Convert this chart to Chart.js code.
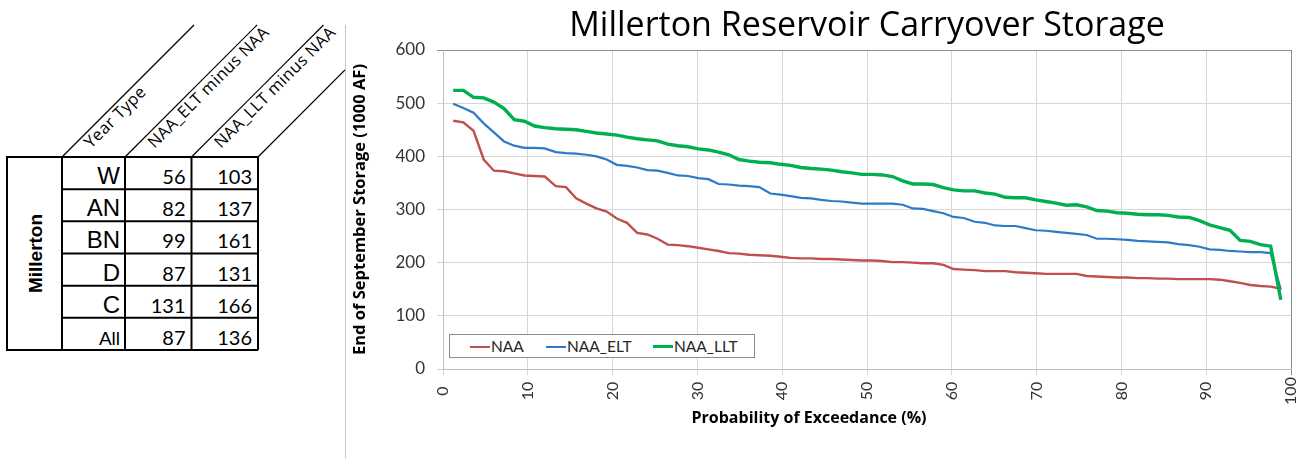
<!DOCTYPE html>
<html>
<head>
<meta charset="utf-8">
<script src="https://cdn.jsdelivr.net/npm/chart.js@4.4.1/dist/chart.umd.min.js"></script>
<style>
  html, body { margin: 0; padding: 0; background: #fff; }
  #page { position: relative; width: 1315px; height: 458px; overflow: hidden; font-family: Lato, "Open Sans", sans-serif; }
  #tbl { position: absolute; left: 0; top: 0; }
  #sep { position: absolute; left: 345px; top: 25px; width: 1px; height: 433px; background: #c4c4c4; }
  #chartBox { position: absolute; left: 345px; top: 0; width: 970px; height: 458px; }
  #title { position: absolute; left: 467px; top: 6px; width: 800px; text-align: center; font-family: "Open Sans", sans-serif; font-size: 34px; line-height: 34px; color: #000; white-space: nowrap; }
  #xTitle { position: absolute; left: 609px; top: 409px; width: 400px; text-align: center; font-family: "Open Sans", sans-serif; font-size: 16px; line-height: 16px; font-weight: bold; color: #000; white-space: nowrap; }
  #legend { position: absolute; left: 449px; top: 334px; width: 306px; height: 24px; box-sizing: border-box; border: 1px solid #8c8c8c; background: #fff; }
  #legend .sw { position: absolute; top: 11px; width: 20px; height: 2px; }
  #legend .lb { position: absolute; top: 3px; font-size: 15.5px; line-height: 16px; color: #262626; white-space: nowrap; }
</style>
</head>
<body>
<div id="page">
  <svg id="tbl" width="345" height="458" viewBox="0 0 345 458"></svg>
  <div id="sep"></div>
  <div id="chartBox"><canvas id="chart" width="970" height="458"></canvas></div>
  <div id="title">Millerton Reservoir Carryover Storage</div>
  <div id="xTitle">Probability of Exceedance (%)</div>
  <div id="legend">
    <span class="sw" style="left:20px;background:#C0504D"></span><span class="lb" style="left:41px">NAA</span>
    <span class="sw" style="left:96px;background:#2C7BC8"></span><span class="lb" style="left:117px">NAA_ELT</span>
    <span class="sw" style="left:203px;height:3px;top:10px;background:#00B050"></span><span class="lb" style="left:224px">NAA_LLT</span>
  </div>
</div>

<script>
// ---------- Table data ----------
const yearTypes = ["W", "AN", "BN", "D", "C", "All"];
const eltMinusNaa = [56, 82, 99, 87, 131, 87];
const lltMinusNaa = [103, 137, 161, 131, 166, 136];
const headers = ["Year Type", "NAA_ELT minus NAA", "NAA_LLT minus NAA"];

// ---------- Chart data (probability of exceedance, %) ----------
const exceedance = [
  1.2, 2.4, 3.6, 4.8, 6.0, 7.2, 8.4, 9.6, 10.8, 12.0,
  13.3, 14.5, 15.7, 16.9, 18.1, 19.3, 20.5, 21.7, 22.9, 24.1,
  25.3, 26.5, 27.7, 28.9, 30.1, 31.3, 32.5, 33.7, 34.9, 36.1,
  37.3, 38.6, 39.8, 41.0, 42.2, 43.4, 44.6, 45.8, 47.0, 48.2,
  49.4, 50.6, 51.8, 53.0, 54.2, 55.4, 56.6, 57.8, 59.0, 60.2,
  61.4, 62.7, 63.9, 65.1, 66.3, 67.5, 68.7, 69.9, 71.1, 72.3,
  73.5, 74.7, 75.9, 77.1, 78.3, 79.5, 80.7, 81.9, 83.1, 84.3,
  85.5, 86.7, 88.0, 89.2, 90.4, 91.6, 92.8, 94.0, 95.2, 96.4,
  97.6, 98.8
];
const naa = [
  467, 464, 448, 394, 373, 372, 368, 364, 363, 362,
  344, 342, 321, 311, 302, 296, 283, 275, 256, 253,
  245, 234, 233, 231, 228, 225, 222, 218, 217, 215,
  214, 213, 211, 209, 208, 208, 207, 207, 206, 205,
  204, 204, 203, 201, 201, 200, 199, 199, 196, 188,
  187, 186, 184, 184, 184, 182, 181, 180, 179, 179,
  179, 179, 175, 174, 173, 172, 172, 171, 171, 170,
  170, 169, 169, 169, 169, 168, 165, 162, 158, 156,
  155, 151
];
const naaElt = [
  499, 491, 482, 462, 445, 428, 420, 416, 416, 415,
  408, 406, 405, 403, 400, 394, 384, 382, 379, 374,
  373, 369, 364, 363, 359, 357, 348, 347, 345, 344,
  342, 330, 328, 325, 322, 321, 318, 316, 315, 313,
  311, 311, 311, 311, 309, 302, 301, 297, 293, 286,
  284, 277, 275, 270, 269, 269, 265, 261, 260, 258,
  256, 254, 252, 245, 245, 244, 243, 241, 240, 239,
  238, 235, 233, 230, 225, 224, 222, 221, 220, 220,
  218, 149
];
const naaLlt = [
  524, 524, 511, 510, 502, 490, 469, 466, 457, 454,
  452, 451, 450, 447, 444, 442, 440, 436, 433, 431,
  429, 423, 420, 418, 414, 412, 408, 403, 394, 391,
  389, 388, 385, 383, 379, 377, 376, 374, 371, 369,
  366, 366, 365, 362, 354, 348, 348, 347, 341, 337,
  335, 335, 331, 329, 323, 322, 322, 318, 315, 312,
  308, 309, 305, 298, 297, 294, 293, 291, 290, 290,
  289, 286, 285, 279, 271, 266, 261, 242, 240, 234,
  231, 130
];
const yTicks = [0, 100, 200, 300, 400, 500, 600];
const xTicks = [0, 10, 20, 30, 40, 50, 60, 70, 80, 90, 100];

// ---------- Helpers ----------
const $ = (id) => document.getElementById(id);
const NS = "http://www.w3.org/2000/svg";
function svgEl(tag, attrs, text) {
  const el = document.createElementNS(NS, tag);
  Object.entries(attrs).forEach(([k, v]) => el.setAttribute(k, v));
  if (text != null) el.textContent = text;
  $("tbl").appendChild(el);
  return el;
}

// ---------- Left table ----------
function drawTable() {
  const cols = [7, 62, 125, 191.5, 258];
  const top = 157, bottom = 350;
  const rowH = (bottom - top) / yearTypes.length;

  // slanted header lines
  const diagTop = 25;
  cols.slice(1).forEach((x) => {
    let x2 = x + (top - diagTop), y2 = diagTop;
    if (x2 > 345) { y2 = top - (345 - x); x2 = 345; }
    svgEl("line", { x1: x, y1: top, x2, y2, stroke: "#000", "stroke-width": 1.2 });
  });

  // rotated header labels
  const starts = [[91, 149], [154.5, 149], [221, 149]];
  const lens = [79, 163, 163];
  headers.forEach((h, i) => {
    svgEl("text", {
      transform: `translate(${starts[i][0]},${starts[i][1]}) rotate(-45)`,
      "font-family": "'Open Sans', sans-serif", "font-size": 16.5, fill: "#000",
      textLength: lens[i], lengthAdjust: "spacing",
    }, h);
  });

  // grid
  const g = { stroke: "#000", "stroke-width": 2, fill: "none" };
  svgEl("rect", { x: cols[0], y: top, width: cols[1] - cols[0], height: bottom - top, ...g });
  cols.slice(1).forEach((x) => svgEl("line", { x1: x, y1: top, x2: x, y2: bottom, ...g }));
  for (let r = 0; r <= yearTypes.length; r++) {
    const y = top + r * rowH;
    svgEl("line", { x1: cols[1], y1: y, x2: cols[4], y2: y, ...g });
  }

  // body
  yearTypes.forEach((t, r) => {
    const base = top + r * rowH + 27;
    svgEl("text", {
      x: cols[2] - 5, y: base, "text-anchor": "end",
      "font-family": "'Liberation Sans', Arial, sans-serif", "font-size": t === "All" ? 19 : 24, fill: "#000",
    }, t);
    svgEl("text", {
      x: cols[3] - 6, y: base, "text-anchor": "end",
      "font-family": "Lato, 'Open Sans', sans-serif", "font-size": 20, fill: "#000",
    }, eltMinusNaa[r]);
    svgEl("text", {
      x: cols[4] - 6, y: base, "text-anchor": "end",
      "font-family": "Lato, 'Open Sans', sans-serif", "font-size": 20, fill: "#000",
    }, lltMinusNaa[r]);
  });

  svgEl("text", {
    transform: `translate(42,${(top + bottom) / 2}) rotate(-90)`, "text-anchor": "middle",
    "font-family": "'Liberation Sans', Arial, sans-serif", "font-size": 19, "font-weight": "bold", fill: "#000",
  }, "Millerton");
}

// ---------- Chart ----------
const pts = (arr) => exceedance.map((x, i) => ({ x, y: arr[i] }));

const xTickLabels = {
  id: "xTickLabels",
  afterDraw(chart) {
    const sc = chart.scales.x, c = chart.ctx;
    c.save();
    c.font = '16px Lato, "Open Sans", sans-serif';
    c.fillStyle = "#333";
    c.textAlign = "center";
    c.textBaseline = "middle";
    sc.ticks.forEach((t) => {
      c.save();
      c.translate(sc.getPixelForValue(t.value), 391);
      c.rotate(-Math.PI / 2);
      c.fillText(String(t.value), 0, 0);
      c.restore();
    });
    c.restore();
  },
};

function drawChart() {
  new Chart($("chart"), {
    type: "line",
    data: {
      datasets: [
        { label: "NAA", data: pts(naa), borderColor: "#C0504D", borderWidth: 2.4, order: 3 },
        { label: "NAA_ELT", data: pts(naaElt), borderColor: "#2C7BC8", borderWidth: 2.2, order: 2 },
        { label: "NAA_LLT", data: pts(naaLlt), borderColor: "#00B050", borderWidth: 3.4, order: 1 },
      ],
    },
    options: {
      responsive: false, animation: false, devicePixelRatio: 1,
      elements: { point: { radius: 0 }, line: { tension: 0 } },
      layout: { padding: { top: 50, right: 24, bottom: 0, left: 0 } },
      plugins: { legend: { display: false }, tooltip: { enabled: false }, title: { display: false } },
      scales: {
        x: {
          type: "linear", min: 0, max: 100,
          afterBuildTicks: (s) => { s.ticks = xTicks.map((v) => ({ value: v })); },
          afterFit: (s) => { s.height = 89; },
          ticks: { display: false },
          grid: { color: (ctx) => (ctx.tick && ctx.tick.value === 100 ? "#8c8c8c" : "#d6d6d6"), tickLength: 6 },
          border: { color: "#bfbfbf" },
        },
        y: {
          min: 0, max: 600,
          afterBuildTicks: (s) => { s.ticks = yTicks.map((v) => ({ value: v })); },
          afterFit: (s) => { s.width = 98; },
          ticks: { color: "#333", padding: 12, font: { family: 'Lato, "Open Sans", sans-serif', size: 17 } },
          grid: { color: (ctx) => (ctx.tick && ctx.tick.value === 600 ? "#8c8c8c" : "#d6d6d6"), tickLength: 6 },
          border: { color: "#bfbfbf" },
          title: {
            display: true, text: "End of September Storage (1000 AF)", color: "#000",
            padding: { top: 5, bottom: 0 },
            font: { family: '"Open Sans", sans-serif', size: 16.5, weight: "bold" },
          },
        },
      },
    },
    plugins: [xTickLabels],
  });
}

drawTable();
drawChart();
</script>
</body>
</html>
